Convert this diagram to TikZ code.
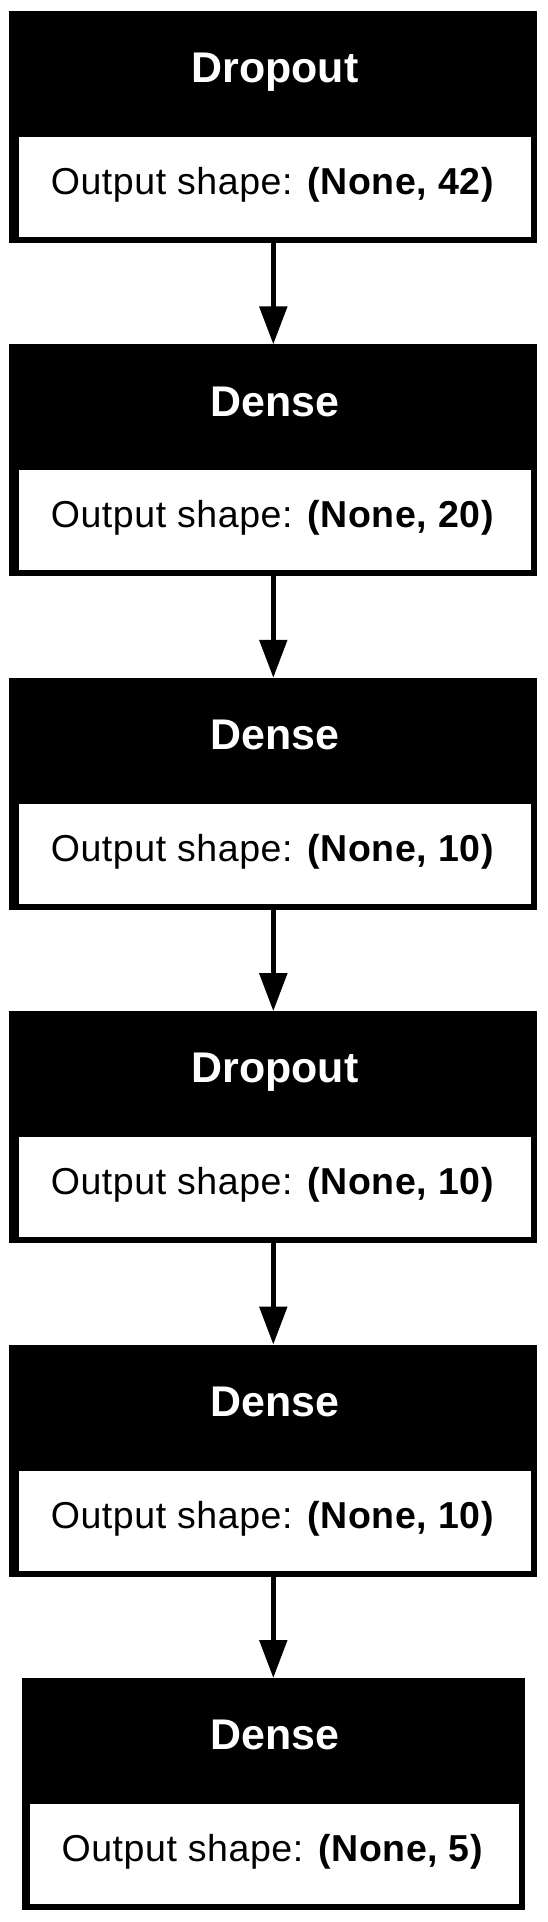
\documentclass[tikz,border=0pt]{standalone}
\usepackage{fontspec}
\setmainfont{Liberation Sans}
\usetikzlibrary{arrows.meta,positioning}

\begin{document}
\begin{tikzpicture}[
    x=1pt, y=-1pt,
    layer_box_style/.style={rectangle, fill=black, inner sep=0pt, outer sep=0pt, minimum height=232pt},
    shape_cell_style/.style={rectangle, fill=white, inner sep=0pt, outer sep=0pt, minimum height=100pt},
    head_text_style/.style={anchor=base, inner sep=0pt, text=white, font=\fontsize{42.9}{50}\selectfont\bfseries},
    shape_text_style/.style={anchor=base, inner sep=0pt, font=\fontsize{37.5}{45}\selectfont\addfontfeatures{LetterSpace=1.5}},
    edge_style/.style={line width=5.3pt, -{Triangle[length=38pt, width=27pt]}}
]

\path[use as bounding box, fill=white] (0,0) rectangle (547,1922);

% Layers: black box, white cell, header and output shape
\foreach \i/\lname/\odim/\boxw/\cellx/\cellw in {
    1/Dropout/42/528/275/511.4,
    2/Dense/20/528/275/511.4,
    3/Dense/10/528/275/511.4,
    4/Dropout/10/528/275/511.4,
    5/Dense/10/528/275/511.4,
    6/Dense/5/503.2/274.3/488.5}
{
    \pgfmathsetmacro{\ytop}{11+333.4*(\i-1)}
    \node[layer_box_style, minimum width=\boxw pt] (layer\i) at (273.3, \ytop+116) {};
    \node[shape_cell_style, minimum width=\cellw pt] (cell\i) at (\cellx, \ytop+176) {};
    \node[head_text_style] (head\i) at (275, \ytop+71.7) {\lname};
    \node[shape_text_style] (shape\i) at (272.5, \ytop+183.5) {Output shape: \textbf{(None, \odim)}};
}

\foreach \u/\v in {layer1/layer2,layer2/layer3,layer3/layer4,layer4/layer5,layer5/layer6}
    \draw[edge_style] (\u.south) -- (\v.north);

\end{tikzpicture}
\end{document}
